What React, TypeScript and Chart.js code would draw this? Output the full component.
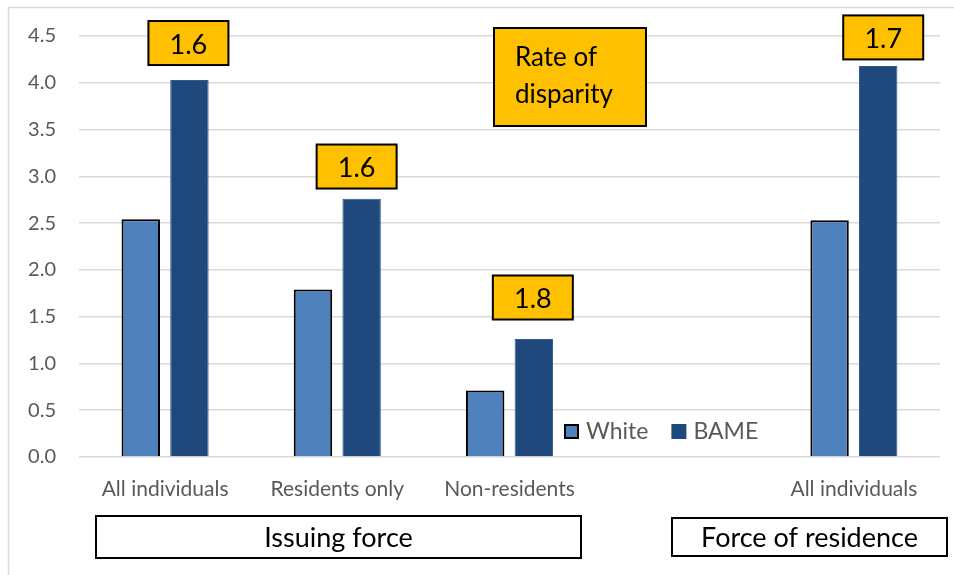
import React, { useEffect, useRef } from "react";
import { Chart, registerables } from "chart.js";

Chart.register(...registerables);

// ---- data ----
const categories = ["All individuals", "Residents only", "Non-residents", "", "All individuals"];
const seriesNames = ["White", "BAME"];
const whiteValues = [2.54, 1.79, 0.71, null, 2.53];
const bameValues = [4.03, 2.76, 1.26, null, 4.18];
const disparityLabels = ["1.6", "1.6", "1.8", null, "1.7"];
const groupLabels = ["Issuing force", "Force of residence"];
const noteLines = ["Rate of", "disparity"];
const yMin = 0;
const yMax = 4.5;
const yStep = 0.5;

// ---- layout / style ----
const W = 954;
const H = 575;
const FONT = "Lato, 'Open Sans', sans-serif";
const WHITE_COLOR = "#4f81bd";
const BAME_COLOR = "#1f497d";
const YELLOW = "#ffc000";
const GRAY_TEXT = "#595959";
const GRID = "#d9d9d9";
// disparity boxes: top edge in axis units, horizontal shift from BAME bar centre (px)
const boxTops = [4.66, 3.34, 1.94, null, 4.72];
const boxShift = [-1, -5, -1, null, 5];
const BOX_W = 80;
const BOX_H = 44;
const groupBoxes = [
  { x: 96, y: 516, w: 485, h: 42 },
  { x: 672, y: 518, w: 275, h: 38 },
];
const noteBox = { x: 494, y: 28, w: 152, h: 98 };
const legendPos = { x: 564, y: 424 };

const overlayPlugin = {
  id: "overlay",
  afterDraw(chart: any) {
    const ctx = chart.ctx as CanvasRenderingContext2D;
    const y = chart.scales.y;
    ctx.save();
    // outer frame
    ctx.strokeStyle = GRID;
    ctx.lineWidth = 1.5;
    ctx.beginPath();
    ctx.moveTo(8.5, H);
    ctx.lineTo(8.5, 7.5);
    ctx.lineTo(W, 7.5);
    ctx.stroke();

    const drawBox = (x: number, yy: number, w: number, h: number, fill: string) => {
      ctx.fillStyle = fill;
      ctx.fillRect(x, yy, w, h);
      ctx.strokeStyle = "#000";
      ctx.lineWidth = 2;
      ctx.strokeRect(x, yy, w, h);
    };

    // disparity boxes
    const bameMeta = chart.getDatasetMeta(1);
    disparityLabels.forEach((lab, i) => {
      if (lab == null) return;
      const bar = bameMeta.data[i];
      const cx = bar.x + (boxShift[i] as number);
      const top = y.getPixelForValue(boxTops[i] as number);
      drawBox(cx - BOX_W / 2, top, BOX_W, BOX_H, YELLOW);
      ctx.fillStyle = "#000";
      ctx.font = `27px ${FONT}`;
      ctx.textAlign = "center";
      ctx.textBaseline = "middle";
      ctx.fillText(lab, cx, top + BOX_H / 2 + 2);
    });

    // note box
    drawBox(noteBox.x, noteBox.y, noteBox.w, noteBox.h, YELLOW);
    ctx.fillStyle = "#000";
    ctx.font = `26px ${FONT}`;
    ctx.textAlign = "left";
    ctx.textBaseline = "middle";
    noteLines.forEach((t, i) => ctx.fillText(t, noteBox.x + 21, noteBox.y + 30 + i * 37));

    // group boxes
    groupBoxes.forEach((b, i) => {
      drawBox(b.x, b.y, b.w, b.h, "#fff");
      ctx.fillStyle = "#000";
      ctx.font = `27px ${FONT}`;
      ctx.textAlign = "center";
      ctx.textBaseline = "middle";
      ctx.fillText(groupLabels[i], b.x + b.w / 2, b.y + b.h / 2 + 1);
    });

    // legend
    ctx.font = `23px ${FONT}`;
    ctx.textAlign = "left";
    ctx.textBaseline = "middle";
    let lx = legendPos.x;
    const ly = legendPos.y;
    const colors = [WHITE_COLOR, BAME_COLOR];
    seriesNames.forEach((name, i) => {
      ctx.fillStyle = colors[i];
      ctx.fillRect(lx, ly, 15, 15);
      if (i === 0) {
        ctx.strokeStyle = "#000";
        ctx.lineWidth = 2;
        ctx.strokeRect(lx + 1, ly + 1, 13, 13);
      }
      ctx.fillStyle = GRAY_TEXT;
      ctx.fillText(name, lx + 22, ly + 8);
      lx += 22 + ctx.measureText(name).width + 23;
    });
    ctx.restore();
  },
};

export default function App() {
  const ref = useRef<HTMLCanvasElement>(null);
  useEffect(() => {
    document.body.style.margin = "0";
    const chart = new Chart(ref.current as HTMLCanvasElement, {
      type: "bar",
      data: {
        labels: categories,
        datasets: [
          {
            label: seriesNames[0],
            data: whiteValues,
            backgroundColor: WHITE_COLOR,
            borderColor: "#000",
            borderWidth: 2,
            categoryPercentage: 0.565,
            barPercentage: 0.79,
          },
          {
            label: seriesNames[1],
            data: bameValues,
            backgroundColor: BAME_COLOR,
            borderColor: "#2f5a8f",
            borderWidth: 1,
            categoryPercentage: 0.565,
            barPercentage: 0.79,
          },
        ],
      },
      options: {
        animation: false,
        responsive: false,
        layout: { padding: { top: 36, right: 14, left: 0, bottom: 0 } },
        plugins: { legend: { display: false }, tooltip: { enabled: false } },
        scales: {
          x: {
            grid: { display: false, drawTicks: false },
            border: { display: false },
            ticks: {
              color: GRAY_TEXT,
              font: { family: FONT, size: 21 },
              padding: 20,
              maxRotation: 0,
              autoSkip: false,
            },
            afterFit: (s: any) => {
              s.height = 118;
            },
          },
          y: {
            min: yMin,
            max: yMax,
            grid: { color: GRID, lineWidth: 1.5, drawTicks: false },
            border: { display: false },
            ticks: {
              stepSize: yStep,
              color: GRAY_TEXT,
              font: { family: FONT, size: 20 },
              padding: 23,
              callback: (v: any) => Number(v).toFixed(1),
            },
            afterFit: (s: any) => {
              s.width = 79;
            },
          },
        },
      },
      plugins: [overlayPlugin],
    });
    return () => chart.destroy();
  }, []);
  return (
    <div style={{ width: W, height: H, background: "#fff" }}>
      <canvas ref={ref} width={W} height={H} style={{ display: "block" }} />
    </div>
  );
}
